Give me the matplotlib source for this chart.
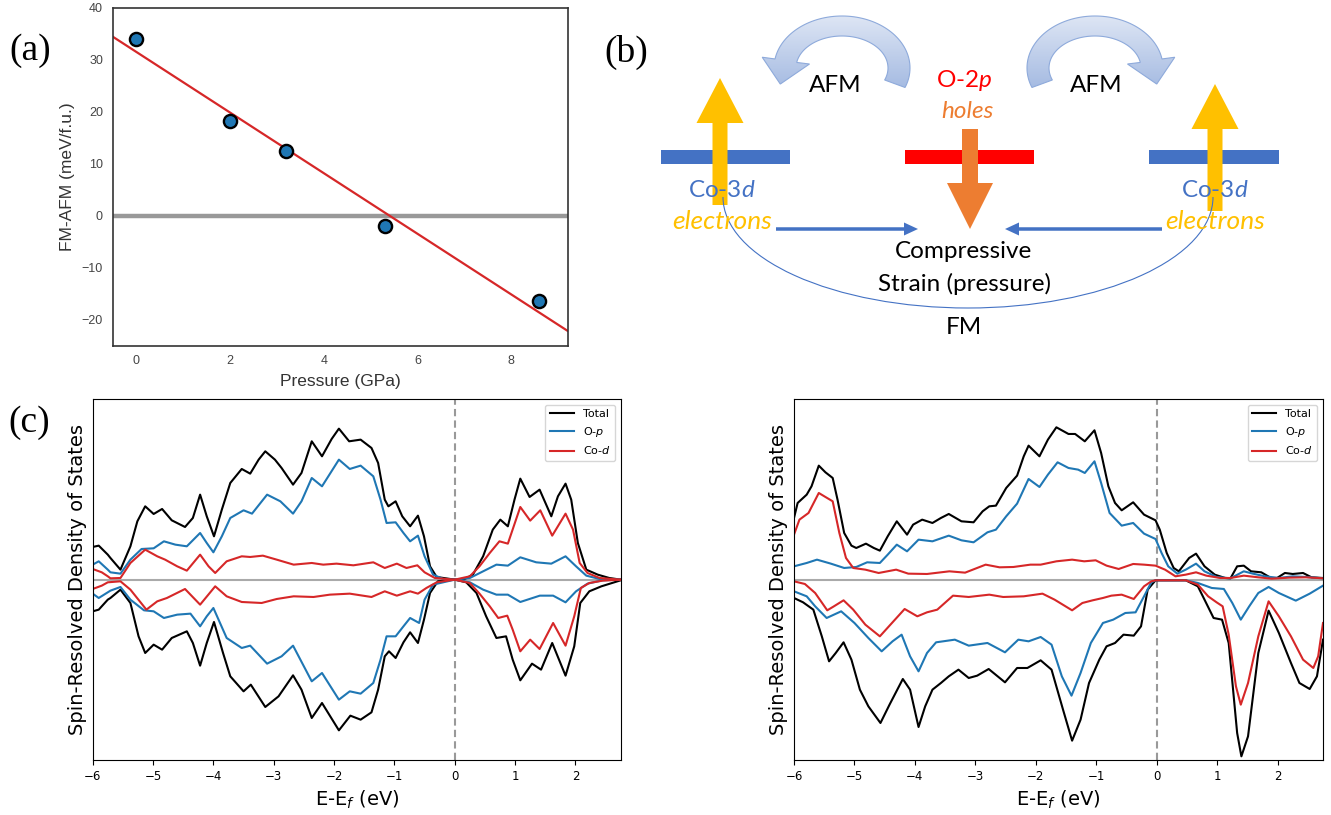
import numpy as np
import matplotlib
matplotlib.use('Agg')
import matplotlib.pyplot as plt
from matplotlib.patches import Polygon, FancyArrow, Arc, Rectangle
from matplotlib.colors import LinearSegmentedColormap

# (a) FM-AFM energy difference vs pressure
pressure = [0.0, 2.0, 3.2, 5.3, 8.6]
fm_afm = [34.0, 18.2, 12.4, -2.0, -16.5]

# (c) spin-resolved DOS, arbitrary units (spin up > 0, spin down < 0)
# left panel
L_TOT_UP_E = [-6.0, -5.9, -5.75, -5.706, -5.54, -5.375, -5.26, -5.13, -4.99, -4.85, -4.69, -4.47, -4.34, -4.22,
              -4.11, -3.99, -3.86, -3.72, -3.53, -3.39, -3.25, -3.14, -2.98, -2.87, -2.68, -2.54, -2.37, -2.20,
              -2.04, -1.92, -1.75, -1.56, -1.38, -1.27, -1.16, -1.10, -0.98, -0.87, -0.74, -0.61, -0.51, -0.41,
              -0.30, 0.0, 0.165, 0.30, 0.47, 0.63, 0.755, 0.88, 0.99, 1.086, 1.24, 1.406, 1.60, 1.71, 1.836, 1.93,
              2.04, 2.18, 2.37, 2.56, 2.75]
L_TOT_UP = [98, 102, 75, 65, 30, 100, 175, 220, 197, 212, 178, 158, 185, 255, 190, 130, 210, 290, 332, 318, 360,
            385, 360, 335, 285, 320, 415, 370, 422, 453, 415, 420, 395, 350, 240, 220, 235, 190, 160, 192, 130, 40,
            8, 0, 2, 15, 70, 150, 180, 160, 240, 303, 248, 270, 190, 250, 288, 240, 110, 30, 15, 5, 0]
L_OP_UP_E = [-6.0, -5.9, -5.75, -5.706, -5.54, -5.375, -5.19, -4.99, -4.82, -4.63, -4.44, -4.22, -4.11, -4.0, -3.86,
             -3.72, -3.50, -3.36, -3.11, -2.89, -2.68, -2.54, -2.37, -2.2, -1.92, -1.74, -1.56, -1.35, -1.23, -1.13,
             -0.98, -0.85, -0.74, -0.61, -0.50, -0.36, -0.19, 0.0, 0.25, 0.47, 0.69, 0.88, 1.086, 1.35, 1.60, 1.836,
             2.01, 2.18, 2.40, 2.75]
L_OP_UP = [45, 55, 30, 22, 18, 60, 92, 94, 115, 105, 100, 140, 110, 82, 130, 185, 208, 198, 255, 235, 198, 235, 305,
           280, 360, 332, 342, 310, 240, 170, 172, 140, 115, 132, 70, 15, 2, 0, 5, 25, 45, 42, 67, 52, 48, 70, 40,
           12, 2, 0]
L_COD_UP_E = [-6.0, -5.85, -5.75, -5.706, -5.54, -5.375, -5.13, -4.93, -4.8, -4.6, -4.44, -4.22, -4.08, -3.97, -3.78,
              -3.53, -3.39, -3.18, -2.95, -2.67, -2.37, -2.18, -1.96, -1.68, -1.35, -1.16, -0.96, -0.80, -0.62, -0.50,
              -0.33, 0.0, 0.25, 0.41, 0.58, 0.74, 0.88, 1.086, 1.25, 1.417, 1.615, 1.836, 1.96, 2.07, 2.2, 2.40, 2.75]
L_COD_UP = [32, 22, 10, 4, 5, 50, 90, 70, 60, 40, 27, 75, 40, 20, 55, 70, 68, 72, 60, 45, 50, 45, 48, 43, 52, 35, 48,
            35, 43, 22, 5, 0, 10, 40, 80, 115, 108, 218, 177, 208, 132, 198, 150, 50, 20, 5, 0]
L_TOT_DN_E = [-6.0, -5.9, -5.75, -5.706, -5.54, -5.375, -5.24, -5.13, -4.99, -4.85, -4.69, -4.44, -4.34, -4.22, -4.11,
              -3.99, -3.84, -3.72, -3.50, -3.38, -3.14, -2.92, -2.68, -2.54, -2.37, -2.2, -1.92, -1.73, -1.56, -1.38,
              -1.27, -1.16, -1.09, -0.98, -0.85, -0.74, -0.61, -0.51, -0.41, -0.28, 0.0, 0.19, 0.36, 0.52, 0.69, 0.85,
              0.96, 1.086, 1.28, 1.43, 1.615, 1.836, 1.98, 2.08, 2.23, 2.43, 2.75]
L_TOT_DN = [-95, -90, -60, -55, -30, -70, -170, -220, -195, -210, -175, -155, -190, -258, -190, -127, -220, -290,
            -335, -315, -382, -350, -287, -330, -415, -370, -452, -408, -420, -398, -330, -230, -215, -235, -188,
            -158, -190, -120, -40, -5, 0, -8, -40, -110, -175, -170, -240, -302, -252, -270, -190, -288, -200, -70,
            -35, -20, -2]
L_OP_DN_E = [-6.0, -5.9, -5.75, -5.706, -5.54, -5.375, -5.15, -4.99, -4.82, -4.60, -4.38, -4.22, -4.11, -4.0, -3.78,
             -3.53, -3.39, -3.11, -2.87, -2.68, -2.37, -2.2, -1.92, -1.74, -1.56, -1.35, -1.23, -1.13, -0.98, -0.85,
             -0.74, -0.59, -0.50, -0.36, 0.0, 0.25, 0.47, 0.69, 0.88, 1.086, 1.41, 1.63, 1.836, 2.01, 2.2, 2.45, 2.75]
L_OP_DN = [-42, -55, -38, -33, -22, -60, -92, -95, -115, -105, -102, -140, -110, -85, -175, -205, -198, -252, -230,
           -198, -305, -280, -360, -335, -342, -310, -240, -170, -170, -140, -115, -130, -60, -15, 0, -8, -30, -45,
           -45, -67, -48, -48, -68, -35, -12, -2, 0]
L_COD_DN_E = [-6.0, -5.85, -5.75, -5.54, -5.375, -5.11, -4.93, -4.77, -4.47, -4.22, -3.97, -3.78, -3.53, -3.20, -2.95,
              -2.67, -2.34, -2.07, -1.74, -1.38, -1.16, -0.96, -0.74, -0.61, -0.47, -0.30, 0.0, 0.25, 0.41, 0.58,
              0.72, 0.87, 0.96, 1.086, 1.25, 1.406, 1.63, 1.836, 1.98, 2.09, 2.23, 2.45, 2.75]
L_COD_DN = [-28, -18, -8, -5, -30, -90, -65, -55, -28, -75, -20, -50, -67, -70, -58, -50, -52, -45, -42, -52, -35,
            -48, -35, -42, -25, -8, 0, -10, -42, -80, -115, -108, -150, -215, -180, -208, -130, -198, -110, -25, -10,
            -3, 0]

# right panel
R_TOT_UP_E = [-6.0, -5.94, -5.79, -5.71, -5.59, -5.48, -5.36, -5.28, -5.17, -5.05, -4.97, -4.81, -4.68, -4.58, -4.45,
              -4.30, -4.13, -4.03, -3.88, -3.71, -3.57, -3.44, -3.23, -3.03, -2.88, -2.77, -2.66, -2.49, -2.31, -2.2,
              -2.12, -1.94, -1.80, -1.66, -1.46, -1.35, -1.19, -1.03, -0.92, -0.80, -0.69, -0.58, -0.39, -0.21, -0.02,
              0.05, 0.165, 0.28, 0.365, 0.536, 0.65, 0.79, 0.96, 1.13, 1.22, 1.33, 1.44, 1.56, 1.73, 1.89, 1.99,
              2.12, 2.25, 2.42, 2.56, 2.75]
R_TOT_UP = [185, 230, 255, 280, 342, 322, 305, 240, 140, 102, 95, 108, 95, 87, 130, 175, 135, 165, 180, 170, 185,
            197, 175, 172, 205, 220, 222, 275, 312, 370, 402, 370, 420, 457, 437, 437, 415, 448, 380, 280, 230, 208,
            232, 195, 178, 150, 80, 35, 25, 65, 78, 40, 15, 5, 4, 40, 42, 25, 22, 5, 5, 20, 17, 20, 7, 5]
R_OP_UP_E = [-6.0, -5.79, -5.62, -5.39, -5.17, -4.97, -4.79, -4.58, -4.45, -4.30, -4.13, -3.94, -3.71, -3.44, -3.23,
             -3.03, -2.80, -2.66, -2.49, -2.31, -2.12, -1.94, -1.80, -1.64, -1.46, -1.30, -1.19, -1.03, -0.92, -0.78,
             -0.58, -0.39, -0.21, -0.02, 0.08, 0.19, 0.34, 0.48, 0.65, 0.79, 0.99, 1.22, 1.44, 1.59, 1.79, 2.02, 2.25,
             2.47, 2.75]
R_OP_UP = [40, 50, 60, 48, 35, 38, 52, 50, 75, 105, 85, 120, 115, 132, 118, 112, 142, 150, 190, 228, 302, 278, 315,
           352, 335, 330, 320, 355, 290, 200, 162, 170, 138, 122, 80, 40, 18, 30, 48, 25, 8, 4, 25, 18, 10, 5, 10, 8, 4]
R_COD_UP_E = [-6.0, -5.91, -5.76, -5.59, -5.48, -5.36, -5.25, -5.14, -5.02, -4.82, -4.60, -4.31, -4.11, -3.80, -3.43,
              -3.17, -2.83, -2.60, -2.37, -2.09, -1.92, -1.66, -1.40, -1.20, -1.01, -0.83, -0.63, -0.39, -0.21, -0.02,
              0.137, 0.31, 0.48, 0.65, 0.82, 1.05, 1.22, 1.44, 1.68, 1.90, 2.19, 2.47, 2.75]
R_COD_UP = [135, 180, 200, 260, 248, 235, 140, 65, 35, 30, 20, 30, 18, 17, 25, 21, 45, 37, 38, 45, 45, 55, 60, 55,
            58, 42, 32, 47, 45, 42, 30, 10, 15, 22, 12, 5, 5, 12, 7, 3, 6, 7, 4]
R_TOT_DN_E = [-6.0, -5.85, -5.68, -5.54, -5.42, -5.31, -5.18, -5.05, -4.91, -4.77, -4.57, -4.42, -4.20, -4.08, -3.94,
              -3.83, -3.71, -3.57, -3.44, -3.28, -3.11, -2.97, -2.78, -2.51, -2.31, -2.14, -1.92, -1.74, -1.55, -1.40,
              -1.26, -1.12, -0.95, -0.83, -0.69, -0.55, -0.38, -0.26, -0.15, -0.02, 0.48, 0.68, 0.79, 0.94, 1.08,
              1.19, 1.33, 1.40, 1.51, 1.68, 1.85, 2.02, 2.22, 2.36, 2.53, 2.65, 2.75]
R_TOT_DN = [-55, -68, -90, -170, -245, -220, -188, -240, -330, -380, -430, -375, -298, -330, -442, -380, -330, -310,
            -290, -270, -295, -288, -268, -308, -265, -265, -242, -270, -390, -483, -420, -310, -240, -200, -190,
            -165, -168, -140, -30, -2, -2, -20, -60, -115, -120, -190, -460, -530, -470, -220, -93, -160, -250, -310,
            -328, -290, -180]
R_OP_DN_E = [-6.0, -5.79, -5.65, -5.46, -5.22, -5.0, -4.77, -4.55, -4.37, -4.22, -4.08, -3.94, -3.80, -3.65, -3.34,
             -3.11, -2.80, -2.51, -2.29, -2.12, -1.92, -1.74, -1.57, -1.41, -1.26, -1.09, -0.89, -0.72, -0.52, -0.35,
             -0.21, -0.09, -0.02, 0.48, 0.68, 0.91, 1.11, 1.25, 1.39, 1.53, 1.68, 1.85, 2.02, 2.30, 2.53, 2.75]
R_OP_DN = [-35, -50, -80, -115, -95, -130, -175, -215, -185, -165, -230, -275, -220, -188, -180, -198, -190, -218,
           -180, -185, -172, -195, -290, -348, -280, -190, -130, -120, -100, -98, -50, -8, -2, -2, -10, -25, -28, -70,
           -120, -80, -40, -22, -40, -63, -42, -18]
R_COD_DN_E = [-6.0, -5.82, -5.65, -5.45, -5.34, -5.18, -5.02, -4.82, -4.58, -4.37, -4.17, -3.96, -3.80, -3.63, -3.37,
              -3.11, -2.77, -2.54, -2.20, -1.89, -1.69, -1.40, -1.23, -1.06, -0.89, -0.75, -0.58, -0.38, -0.21, -0.09,
              -0.02, 0.48, 0.68, 0.85, 0.99, 1.09, 1.19, 1.31, 1.39, 1.51, 1.68, 1.85, 2.02, 2.22, 2.42, 2.59, 2.67,
              2.75]
R_COD_DN = [-5, -13, -40, -92, -80, -62, -90, -135, -170, -128, -88, -110, -98, -90, -48, -52, -45, -52, -50, -42,
            -60, -92, -70, -62, -55, -48, -45, -58, -20, -5, -2, -2, -15, -50, -68, -80, -165, -320, -375, -310, -170,
            -65, -110, -170, -240, -265, -230, -130]

DOS_LABELS = ['Total', 'O-$p$', 'Co-$d$']
DOS_COLORS = ['black', '#1f77b4', '#d62728']

W, H = 1331, 815
BLUE = '#4472c4'
plt.rcParams['mathtext.rm'] = 'Lato'
plt.rcParams['mathtext.it'] = 'Lato:italic'
plt.rcParams['mathtext.bf'] = 'Lato:bold'

fig = plt.figure(figsize=(W / 100, H / 100), dpi=100)


def px_axes(left, top, right, bottom):
    return fig.add_axes([left / W, 1 - bottom / H, (right - left) / W, (bottom - top) / H])


# ---------------- (a)
ax_a = px_axes(112.7, 7.5, 567.5, 345.7)
ax_a.axhline(0, color='#999999', lw=3.2, zorder=1)
coef = np.polyfit(pressure, fm_afm, 1)
xfit = np.array([-0.5, 9.2])
ax_a.plot(xfit, np.polyval(coef, xfit), color='#d62728', lw=1.6, zorder=2)
ax_a.scatter(pressure, fm_afm, s=90, c='#1f77b4', edgecolors='black', linewidths=1.7, zorder=3)
ax_a.set_xlim(-0.5, 9.2)
ax_a.set_ylim(-25, 40)
ax_a.set_xticks([0, 2, 4, 6, 8])
ax_a.set_yticks([-20, -10, 0, 10, 20, 30, 40])
ax_a.tick_params(length=0, labelsize=9, labelcolor='#444444', pad=7, labelfontfamily='Liberation Sans')
for sp in ax_a.spines.values():
    sp.set_color('#333333')
    sp.set_linewidth(1.2)
ax_a.set_xlabel('Pressure (GPa)', fontsize=12.5, family='Liberation Sans', color='#333333', labelpad=5)
ax_a.set_ylabel('FM-AFM (meV/f.u.)', fontsize=12.5, family='Liberation Sans', color='#333333', labelpad=5)


# ---------------- (c)
def dos_panel(ax, curves):
    ax.axhline(0, color='#aaaaaa', lw=1.5, zorder=1)
    ax.axvline(0, color='#999999', lw=1.5, ls=(0, (3.5, 2)), zorder=1)
    for (e_up, up, e_dn, dn), color, label in zip(curves, DOS_COLORS, DOS_LABELS):
        ax.plot(e_up, up, color=color, lw=1.5, label=label, zorder=2, solid_joinstyle='round')
        ax.plot(e_dn, dn, color=color, lw=1.5, zorder=2, solid_joinstyle='round')
    ax.set_xlim(-6, 2.75)
    ax.set_ylim(-541, 541)
    ax.set_yticks([])
    ax.set_xticks(range(-6, 3))
    ax.tick_params(axis='x', labelsize=8.5, length=3.5)
    ax.set_xlabel('E-E$_f$ (eV)', fontsize=14)
    ax.set_ylabel('Spin-Resolved Density of States', fontsize=14)
    ax.legend(loc='upper right', fontsize=8, handlelength=2.2)


ax_c1 = px_axes(92.7, 399.3, 620.7, 760)
dos_panel(ax_c1, [(L_TOT_UP_E, L_TOT_UP, L_TOT_DN_E, L_TOT_DN),
                  (L_OP_UP_E, L_OP_UP, L_OP_DN_E, L_OP_DN),
                  (L_COD_UP_E, L_COD_UP, L_COD_DN_E, L_COD_DN)])
ax_c2 = px_axes(794, 399.3, 1323, 760)
dos_panel(ax_c2, [(R_TOT_UP_E, R_TOT_UP, R_TOT_DN_E, R_TOT_DN),
                  (R_OP_UP_E, R_OP_UP, R_OP_DN_E, R_OP_DN),
                  (R_COD_UP_E, R_COD_UP, R_COD_DN_E, R_COD_DN)])

# ---------------- (b) schematic
ax_b = px_axes(600, 0, W, 345)
ax_b.axis('off')
afm_cmap = LinearSegmentedColormap.from_list('afm', ['#e6ecf7', '#9cb4df'])


def afm_arrow(cx, cy, sgn):
    rxo, rxi, ryo, ryi = 68, 46, 52, 32
    th = np.radians(np.linspace(-22, 170, 80))
    ox, oy = cx + sgn * rxo * np.cos(th), cy - ryo * np.sin(th)
    ix, iy = cx + sgn * rxi * np.cos(th), cy - ryi * np.sin(th)
    t = th[-1]
    wo = (cx + sgn * (rxo + 13) * np.cos(t), cy - (ryo + 10) * np.sin(t))
    wi = (cx + sgn * (rxi - 13) * np.cos(t), cy - (ryi - 9) * np.sin(t))
    mx, my = cx + sgn * 57 * np.cos(t), cy - 42 * np.sin(t)
    tx, ty = -sgn * 57 * np.sin(t), -42 * np.cos(t)
    n = np.hypot(tx, ty)
    tip = (mx + 24 * tx / n, my + 24 * ty / n)
    verts = list(zip(ox, oy)) + [wo, tip, wi] + list(zip(ix[::-1], iy[::-1]))
    poly = Polygon(verts, closed=True, facecolor='none', edgecolor='#8eaadb', lw=0.8, zorder=3)
    ax_b.add_patch(poly)
    im = ax_b.imshow(np.linspace(0, 1, 100).reshape(-1, 1), cmap=afm_cmap, origin='upper',
                     extent=(cx - 100, cx + 100, 100, 5), aspect='auto', zorder=2)
    im.set_clip_path(poly)


afm_arrow(842, 68, 1)
afm_arrow(1095, 68, -1)

ax_b.add_patch(Rectangle((661, 150), 129, 14, color=BLUE, lw=0, zorder=2))
ax_b.add_patch(Rectangle((905, 150), 129, 14, color='#ff0000', lw=0, zorder=2))
ax_b.add_patch(Rectangle((1149, 150), 130, 14, color=BLUE, lw=0, zorder=2))

arrow_kw = dict(length_includes_head=True, lw=0, zorder=3)
ax_b.add_patch(FancyArrow(720, 205, 0, -127, width=15, head_width=47, head_length=45, color='#ffc000', **arrow_kw))
ax_b.add_patch(FancyArrow(1215, 211, 0, -127, width=15, head_width=47, head_length=45, color='#ffc000', **arrow_kw))
ax_b.add_patch(FancyArrow(970, 129, 0, 100, width=16, head_width=46, head_length=46, color='#ed7d31', **arrow_kw))
ax_b.add_patch(FancyArrow(776, 229, 142, 0, width=3.5, head_width=13, head_length=14, color=BLUE, **arrow_kw))
ax_b.add_patch(FancyArrow(1162, 229, -157, 0, width=3.5, head_width=13, head_length=14, color=BLUE, **arrow_kw))
ax_b.add_patch(Arc((968, 197), 490, 222, theta1=0, theta2=180, color=BLUE, lw=0.8, zorder=4))

txt = dict(family='Lato', fontsize=17.5, ha='center', va='baseline', zorder=5, math_fontfamily='custom')
ax_b.text(835, 92.5, 'AFM', color='black', **txt)
ax_b.text(1096, 92.5, 'AFM', color='black', **txt)
ax_b.text(964, 87, 'O-2$p$', color='#ff0000', **txt)
ax_b.text(967, 118, 'holes', color='#ed7d31', style='italic', **txt)
ax_b.text(722, 197, 'Co-3$d$', color=BLUE, **txt)
ax_b.text(1215, 197, 'Co-3$d$', color=BLUE, **txt)
txt_e = dict(txt, fontsize=19)
ax_b.text(722, 229, 'electrons', color='#ffc000', style='italic', **txt_e)
ax_b.text(1215, 229, 'electrons', color='#ffc000', style='italic', **txt_e)
ax_b.text(964, 258, 'Compressive', color='black', **txt)
ax_b.text(964, 291, 'Strain (pressure)', color='black', **txt)
ax_b.text(964, 334, 'FM', color='black', **txt)
ax_b.set_xlim(600, W)
ax_b.set_ylim(345, 0)

# panel letters
for lx, ly, s in [(30, 51, '(a)'), (626, 52, '(b)'), (29, 423, '(c)')]:
    fig.text(lx / W, 1 - ly / H, s, fontsize=27, family='Liberation Serif', ha='center', va='center')

fig.savefig('out.png', dpi=100, facecolor='white')
